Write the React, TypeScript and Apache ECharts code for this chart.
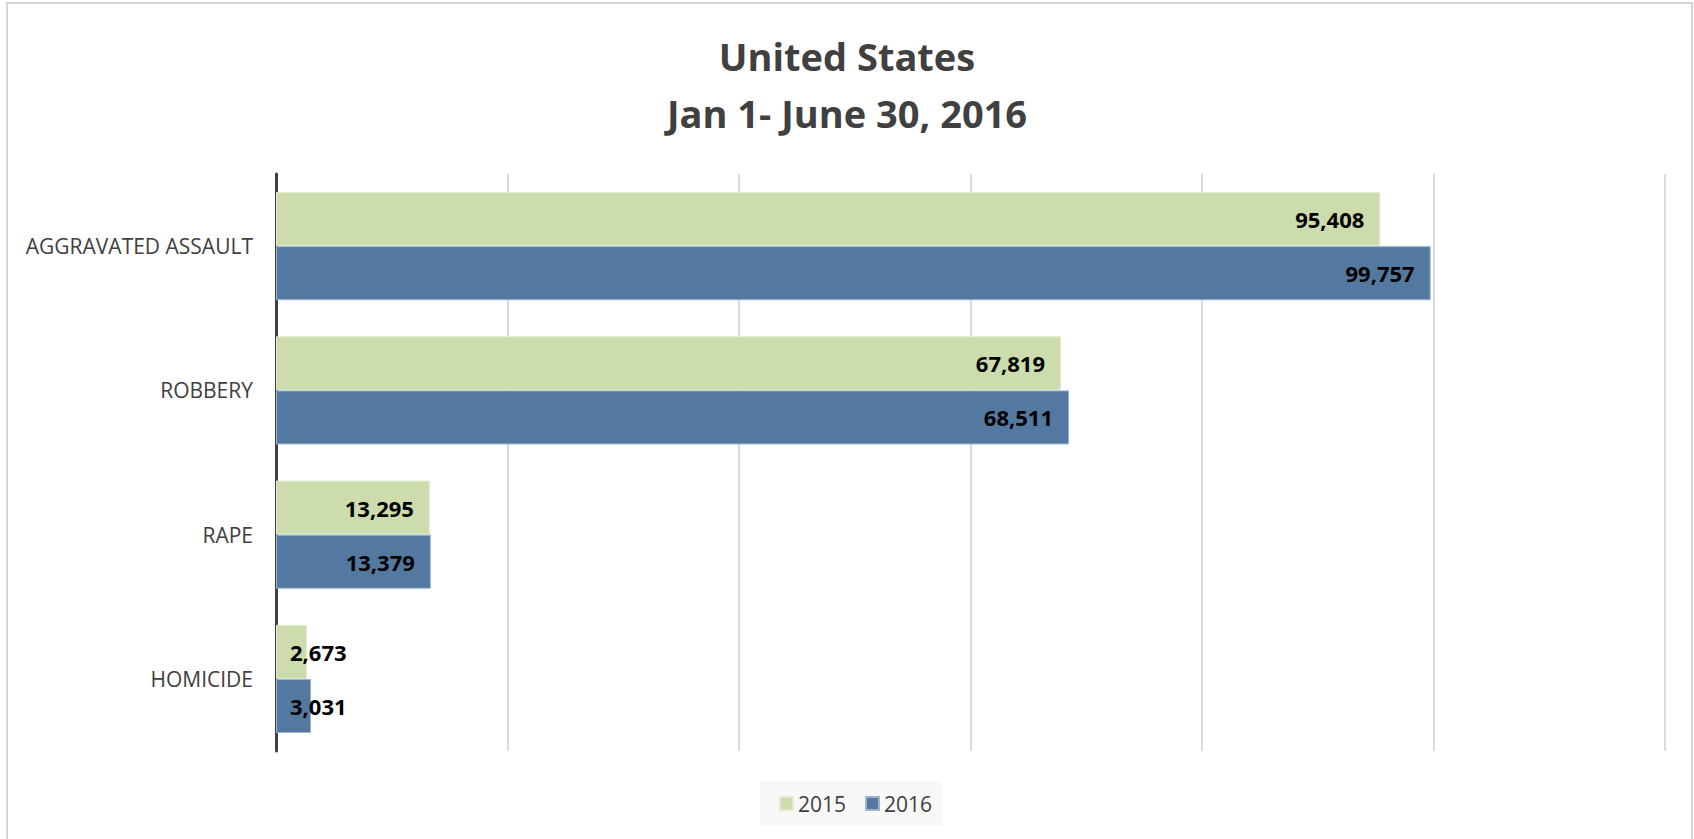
import React, { useEffect, useRef } from "react";
import * as echarts from "echarts";

const categories = ["AGGRAVATED ASSAULT", "ROBBERY", "RAPE", "HOMICIDE"];
const values2015 = [95408, 67819, 13295, 2673];
const values2016 = [99757, 68511, 13379, 3031];
const seriesNames = ["2015", "2016"];
const titleLines = ["United States", "Jan 1- June 30, 2016"];
const xMax = 120000;
const xInterval = 20000;

const FONT = "'Open Sans', 'Noto Sans', sans-serif";

function fmt(v: number) {
  return v.toLocaleString("en-US");
}

function buildData(vals: number[]) {
  return vals.map((v) =>
    v < 5000
      ? { value: v, label: { position: "insideLeft", distance: 14 } }
      : { value: v }
  );
}

export default function App() {
  const ref = useRef<HTMLDivElement>(null);
  useEffect(() => {
    if (!ref.current) return;
    const chart = echarts.init(ref.current, undefined, { renderer: "svg" });
    const labelCfg = {
      show: true,
      position: "insideRight",
      distance: 16,
      color: "#000000",
      fontFamily: FONT,
      fontWeight: "bold",
      fontSize: 22,
      formatter: (p: any) => fmt(p.value),
    };
    chart.setOption({
      animation: false,
      backgroundColor: "#ffffff",
      title: {
        text: titleLines.join("\n"),
        left: "center",
        top: 22,
        textStyle: {
          fontFamily: FONT,
          fontWeight: "bold",
          fontSize: 38,
          lineHeight: 57,
          color: "#404040",
        },
      },
      graphic: [
        {
          type: "polyline",
          shape: { points: [[7, 839], [7, 3], [1692, 3], [1692, 839]] },
          style: { stroke: "#d4d4d4", lineWidth: 2, fill: "none" },
          silent: true,
        },
      ],
      legend: {
        left: 760,
        top: 781,
        backgroundColor: "#f8f8f8",
        padding: [12, 10, 12, 19],
        itemGap: 19,
        itemWidth: 13,
        itemHeight: 13,
        icon: "rect",
        data: seriesNames,
        textStyle: { fontFamily: FONT, fontSize: 21, color: "#404040" },
      },
      grid: { left: 276, right: 29, top: 174, bottom: 88, containLabel: false },
      xAxis: {
        type: "value",
        min: 0,
        max: xMax,
        interval: xInterval,
        axisLabel: { show: false },
        axisLine: { show: false },
        axisTick: { show: false },
        splitLine: { show: true, lineStyle: { color: "#cfcfcf", width: 1.5 } },
      },
      yAxis: {
        type: "category",
        inverse: true,
        data: categories,
        axisLine: { show: true, lineStyle: { color: "#404040", width: 3 } },
        axisTick: { show: false },
        axisLabel: {
          margin: 23,
          fontFamily: FONT,
          fontSize: 21,
          color: "#404040",
        },
      },
      series: [
        {
          name: seriesNames[0],
          type: "bar",
          data: buildData(values2015),
          barGap: "0%",
          barCategoryGap: "25%",
          itemStyle: {
            color: "#cddcac",
            borderColor: "#e2ebd2",
            borderWidth: 1,
          },
          label: labelCfg,
        },
        {
          name: seriesNames[1],
          type: "bar",
          data: buildData(values2016),
          barGap: "0%",
          barCategoryGap: "25%",
          itemStyle: {
            color: "#5479a1",
            borderColor: "#9fb4cc",
            borderWidth: 1,
          },
          label: labelCfg,
        },
      ],
    });
    return () => chart.dispose();
  }, []);
  return (
    <div
      ref={ref}
      style={{ position: "fixed", left: 0, top: 0, width: 1694, height: 839 }}
    />
  );
}
